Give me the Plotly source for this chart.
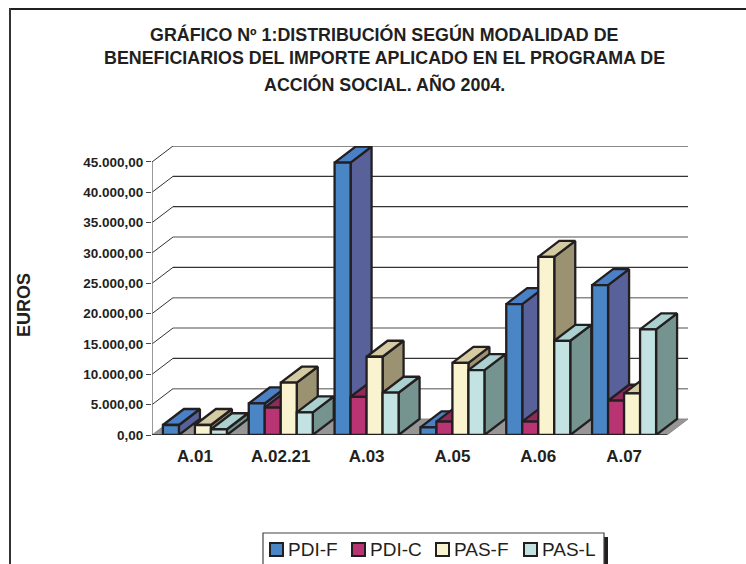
import plotly.graph_objects as go

categories = ["A.01", "A.02.21", "A.03", "A.05", "A.06", "A.07"]
series_names = ["PDI-F", "PDI-C", "PAS-F", "PAS-L"]
pdi_f = [1650, 5200, 44900, 1260, 21570, 24700]
pdi_c = [None, 4500, 6300, 2200, 2200, 5650]
pas_f = [1650, 8620, 12900, 11900, 29360, 6860]
pas_l = [950, 3730, 6970, 10700, 15530, 17400]
series_values = [pdi_f, pdi_c, pas_f, pas_l]
y_ticks = [0, 5000, 10000, 15000, 20000, 25000, 30000, 35000, 40000, 45000]
y_labels = ["0,00", "5.000,00", "10.000,00", "15.000,00", "20.000,00",
            "25.000,00", "30.000,00", "35.000,00", "40.000,00", "45.000,00"]
title_lines = ["GRÁFICO Nº 1:DISTRIBUCIÓN SEGÚN MODALIDAD DE",
               "BENEFICIARIOS DEL IMPORTE APLICADO EN EL PROGRAMA DE",
               "ACCIÓN SOCIAL. AÑO 2004."]

W, H = 746, 564
LEFT, RIGHT_BACK, BOTTOM, TOP_BACK = 152, 688, 435, 146
DEPTH_X_PX, DEPTH_Y_PX = 21, 16
CAT_PX = (RIGHT_BACK - DEPTH_X_PX - LEFT) / len(categories)
VAL_PX = (BOTTOM - 161.7) / 45000
dx = DEPTH_X_PX / CAT_PX
dy = DEPTH_Y_PX / VAL_PX
n = len(categories)
x_max = n + dx
y_max = 45000 + dy
bar_w = 16 / CAT_PX
group_gap = (1 - 4 * bar_w) / 2

front = ["#4A86C5", "#B93473", "#F9F3CF", "#C2E3E1"]
side = ["#58619A", "#8A2A58", "#9A9270", "#76948F"]
top = ["#4A80C6", "#8F2B5B", "#D5CBA2", "#AAD1CF"]
EDGE = "#231F20"
INK = "#231F20"
EDGE_W = 2.3

fig = go.Figure()

# Floor
fig.add_trace(go.Scatter(x=[0, dx, n + dx, n, 0], y=[0, dy, dy, 0, 0], mode="lines", fill="toself",
                         fillcolor="#969696", line=dict(color="#8a8a8a", width=1),
                         hoverinfo="skip", showlegend=False, zorder=0, cliponaxis=False))

# Wall grid lines: a slanted piece on the side wall and a long piece on the back wall
grid_style = {5000: ("#8a8a8a", 1.6), 10000: ("#333333", 1.2), 15000: ("#8a8a8a", 1.6),
              20000: ("#8a8a8a", 1.6), 25000: ("#333333", 1.2), 30000: ("#8a8a8a", 1.6),
              35000: ("#333333", 1.2), 40000: ("#333333", 1.2), 45000: ("#8a8a8a", 1.8)}
for v in y_ticks[1:]:
    c, w = grid_style[v]
    fig.add_trace(go.Scatter(x=[0, dx], y=[v, v + dy], mode="lines", line=dict(color="#333333", width=1),
                             hoverinfo="skip", showlegend=False, zorder=0, cliponaxis=False))
    fig.add_trace(go.Scatter(x=[dx, n + dx], y=[v + dy, v + dy], mode="lines", line=dict(color=c, width=w),
                             hoverinfo="skip", showlegend=False, zorder=0, cliponaxis=False))

# 3D bars, painted series by series from back-left to front-right
for s, (name, vals) in enumerate(zip(series_names, series_values)):
    xs_left = [i + group_gap + s * bar_w for i in range(n)]
    side_x, side_y, top_x, top_y = [], [], [], []
    for x0, v in zip(xs_left, vals):
        if v is None:
            continue
        x1 = x0 + bar_w
        side_x += [x1, x1 + dx, x1 + dx, x1, x1, None]
        side_y += [0, dy, v + dy, v, 0, None]
        top_x += [x0, x0 + dx, x1 + dx, x1, x0, None]
        top_y += [v, v + dy, v + dy, v, v, None]
    fig.add_trace(go.Scatter(x=side_x, y=side_y, mode="lines", fill="toself", fillcolor=side[s],
                             line=dict(color=EDGE, width=EDGE_W), hoverinfo="skip", showlegend=False,
                             zorder=2 * s + 1, cliponaxis=False))
    fig.add_trace(go.Scatter(x=top_x, y=top_y, mode="lines", fill="toself", fillcolor=top[s],
                             line=dict(color=EDGE, width=EDGE_W), hoverinfo="skip", showlegend=False,
                             zorder=2 * s + 1, cliponaxis=False))
    fig.add_trace(go.Bar(x=[x + bar_w / 2 for x in xs_left], y=vals, width=bar_w, name=name,
                         marker=dict(color=front[s], line=dict(color=EDGE, width=EDGE_W)),
                         showlegend=False, zorder=2 * s + 2, cliponaxis=False))

# Front base line
fig.add_trace(go.Scatter(x=[0, n], y=[0, 0], mode="lines", line=dict(color=EDGE, width=1.5),
                         hoverinfo="skip", showlegend=False, zorder=20, cliponaxis=False))

def px(x):
    return x / W

def py(y):
    return 1 - y / H

shapes = [
    # Page frame
    dict(type="line", xref="paper", yref="paper", x0=px(9), x1=px(746), y0=py(9), y1=py(9),
         line=dict(color="#231F20", width=2)),
    dict(type="line", xref="paper", yref="paper", x0=px(10), x1=px(10), y0=py(8), y1=py(564),
         line=dict(color="#333333", width=2)),
    # Legend box and its shadow
    dict(type="rect", xref="paper", yref="paper", x0=px(604), x1=px(608), y0=py(537), y1=py(570),
         fillcolor="#231F20", line=dict(width=0)),
    dict(type="rect", xref="paper", yref="paper", x0=px(263), x1=px(604), y0=py(533), y1=py(570),
         fillcolor="white", line=dict(color="#444444", width=1.2)),
]

annotations = []
for text, yp in zip(title_lines, [34, 58, 84]):
    annotations.append(dict(text=text, xref="paper", yref="paper", x=px(384), y=py(yp), showarrow=False,
                            xanchor="center", yanchor="middle",
                            font=dict(family="Liberation Sans", size=17.85, color=INK, weight="bold")))
annotations.append(dict(text="EUROS", xref="paper", yref="paper", x=px(24), y=py(305), showarrow=False,
                        textangle=-90, xanchor="center", yanchor="middle",
                        font=dict(family="Liberation Sans", size=18, color=INK, weight="bold")))

# Legend row
swatch_x = [270, 352, 436, 524]
text_x = [287, 369, 453, 541]
for name, color, sx, tx in zip(series_names, front, swatch_x, text_x):
    shapes.append(dict(type="rect", xref="paper", yref="paper", x0=px(sx), x1=px(sx + 13),
                       y0=py(543), y1=py(556), fillcolor=color, line=dict(color=EDGE, width=2)))
    annotations.append(dict(text=name, xref="paper", yref="paper", x=px(tx), y=py(549.5), showarrow=False,
                            xanchor="left", yanchor="middle", xshift=-1,
                            font=dict(family="Liberation Sans", size=19, color=INK)))

fig.update_layout(
    width=W, height=H, margin=dict(l=0, r=0, t=0, b=0, autoexpand=False),
    paper_bgcolor="white", plot_bgcolor="white", barmode="overlay", showlegend=False,
    shapes=shapes, annotations=annotations,
    xaxis=dict(domain=[LEFT / W, RIGHT_BACK / W], range=[0, x_max], showgrid=False, zeroline=False,
               tickmode="array", tickvals=[i + 0.5 for i in range(n)], ticktext=categories,
               ticks="", showline=False, ticklabelstandoff=9,
               tickfont=dict(family="Liberation Sans", size=17, color=INK, weight="bold")),
    yaxis=dict(domain=[1 - BOTTOM / H, 1 - TOP_BACK / H], range=[0, y_max], showgrid=False, zeroline=False,
               tickmode="array", tickvals=y_ticks, ticktext=y_labels, ticks="outside", ticklen=5,
               tickcolor="#444444", tickwidth=1, showline=False,
               tickfont=dict(family="Liberation Sans", size=13.5, color=INK, weight="bold")),
)

# Front wall edge of the value axis
fig.add_trace(go.Scatter(x=[0, 0], y=[0, 45000], mode="lines", line=dict(color="#777777", width=1.5),
                         hoverinfo="skip", showlegend=False, zorder=0, cliponaxis=False))

fig.write_html("out.html", post_script="document.body.style.margin='0';",
               config=dict(displayModeBar=False))
